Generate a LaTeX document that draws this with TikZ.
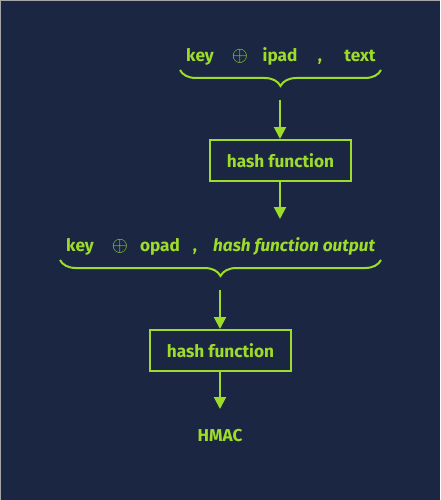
\documentclass[tikz,border=0pt]{standalone}
\usepackage{fontspec}
\setmainfont{Fira Sans}
\usetikzlibrary{arrows.meta,decorations.pathreplacing}
\definecolor{bg}{HTML}{1B2742}
\definecolor{fg}{HTML}{9EDC2A}
\begin{document}
\begin{tikzpicture}[x=1pt,y=-1pt,
  every node/.style={text=fg,font=\bfseries\fontsize{17.2}{20}\selectfont},
  lbl/.style={anchor=base,inner sep=0pt},
  op/.style={anchor=base,inner sep=0pt,font=\fontsize{21}{24}\selectfont},
  hashbox/.style={draw=fg,line width=2pt,minimum width=141pt,minimum height=41pt,inner sep=0pt},
  flow/.style={draw=fg,line width=2pt,-{Triangle[width=12pt,length=12pt]}},
  bracestyle/.style={draw=fg,line width=2pt,decorate,decoration={brace,mirror,amplitude=16pt}}]
\fill[bg] (0,0) rectangle (440,500);
\useasboundingbox (0,0) rectangle (440,500);
\draw[gray!70,line width=1pt] (0.5,500) -- (0.5,0.5) -- (440,0.5);
% row 1
\node[lbl] (k1) at (200,62) {key};
\node[op] (x1) at (240,62) {$\oplus$};
\node[lbl] (ip) at (280,62) {ipad};
\node[lbl] (c1) at (320,62) {,};
\node[lbl] (tx) at (360,62) {text};
\coordinate (b1l) at (180,70);
\coordinate (b1r) at (381,70);
\draw[bracestyle] (b1l) -- (b1r);
\coordinate (a1) at (280,100);
\node[hashbox] (h1) at (280.5,160.5) {hash function};
\draw[flow] (a1) -- (a1 |- h1.north);
\coordinate (a2) at (280,219);
\draw[flow] (h1.south -| a2) -- (a2);
% row 2
\node[lbl] (k2) at (80,251) {key};
\node[op] (x2) at (120,251) {$\oplus$};
\node[lbl] (op) at (160,251) {opad};
\node[lbl] (c2) at (195,251) {,};
\node[lbl,anchor=base west] (hfo) at (213,251) {\itshape hash function output};
\coordinate (b2l) at (60,260);
\coordinate (b2r) at (381,260);
\draw[bracestyle] (b2l) -- (b2r);
\coordinate (a3) at (220,290);
\node[hashbox] (h2) at (220.5,350.5) {hash function};
\draw[flow] (a3) -- (a3 |- h2.north);
\coordinate (a4) at (220,409);
\draw[flow] (h2.south -| a4) -- (a4);
\node (hm) at (220,436) {HMAC};
\end{tikzpicture}
\end{document}
